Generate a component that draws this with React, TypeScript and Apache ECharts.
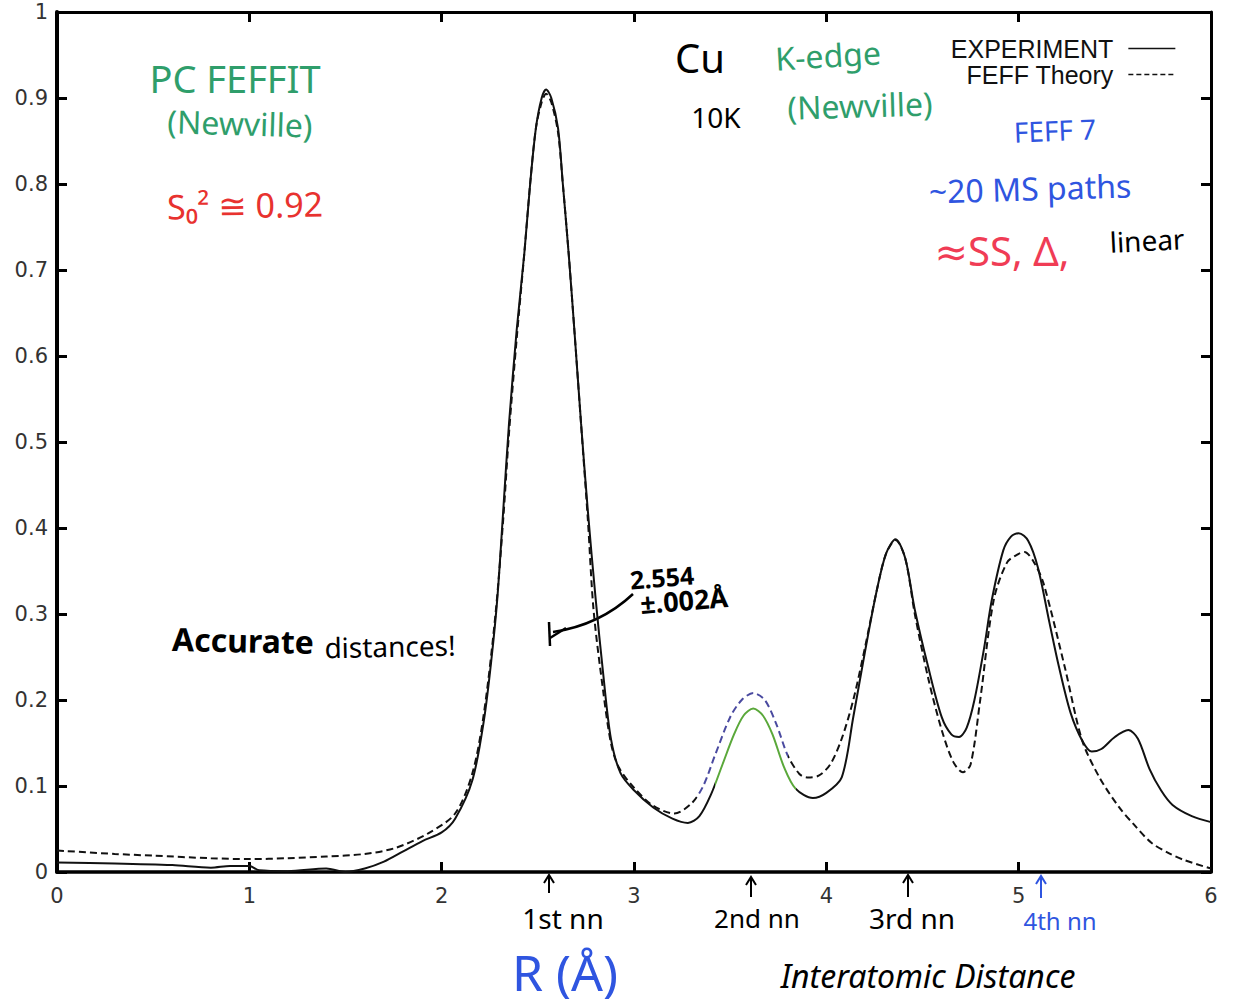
import React, { useEffect, useRef } from "react";
import * as echarts from "echarts";

// Experiment (solid): R (Å) and |chi(R)|
const rExp = [0, 0.3, 0.6, 0.8, 0.9, 1.0, 1.05, 1.2, 1.4, 1.5, 1.6, 1.7, 1.8, 1.9, 2.0, 2.07, 2.16, 2.22, 2.26, 2.29, 2.32, 2.35, 2.39, 2.43, 2.46, 2.49, 2.52, 2.543, 2.57, 2.605, 2.63, 2.66, 2.69, 2.725, 2.76, 2.8, 2.84, 2.88, 2.93, 3.0, 3.1, 3.2, 3.28, 3.34, 3.4, 3.46, 3.52, 3.57, 3.62, 3.67, 3.72, 3.78, 3.84, 3.93, 4.0, 4.08, 4.14, 4.2, 4.26, 4.31, 4.36, 4.41, 4.46, 4.53, 4.6, 4.65, 4.69, 4.73, 4.77, 4.82, 4.86, 4.92, 4.96, 5.0, 5.05, 5.1, 5.16, 5.21, 5.27, 5.33, 5.38, 5.43, 5.5, 5.57, 5.62, 5.68, 5.74, 5.8, 5.9, 6.0];
const vExp = [0.011, 0.01, 0.008, 0.005, 0.007, 0.007, 0.002, 0.001, 0.004, 0.0, 0.004, 0.012, 0.024, 0.036, 0.046, 0.062, 0.107, 0.177, 0.25, 0.32, 0.42, 0.521, 0.63, 0.72, 0.8, 0.865, 0.9, 0.91, 0.9, 0.865, 0.8, 0.72, 0.63, 0.521, 0.42, 0.319, 0.23, 0.155, 0.115, 0.095, 0.075, 0.062, 0.057, 0.065, 0.09, 0.125, 0.16, 0.182, 0.19, 0.182, 0.16, 0.122, 0.097, 0.086, 0.092, 0.11, 0.18, 0.255, 0.325, 0.37, 0.387, 0.365, 0.305, 0.238, 0.18, 0.16, 0.157, 0.168, 0.2, 0.26, 0.316, 0.374, 0.39, 0.394, 0.385, 0.354, 0.29, 0.238, 0.185, 0.153, 0.14, 0.143, 0.157, 0.165, 0.155, 0.12, 0.095, 0.078, 0.065, 0.058];

// FEFF theory (dashed)
const rTheory = [0, 0.3, 0.5, 0.8, 1.0, 1.2, 1.4, 1.6, 1.76, 1.93, 2.07, 2.16, 2.22, 2.28, 2.32, 2.35, 2.39, 2.43, 2.46, 2.49, 2.52, 2.543, 2.57, 2.605, 2.63, 2.66, 2.69, 2.725, 2.76, 2.79, 2.84, 2.88, 2.92, 3.0, 3.1, 3.21, 3.3, 3.36, 3.42, 3.5, 3.56, 3.62, 3.68, 3.74, 3.8, 3.86, 3.9, 3.96, 4.02, 4.08, 4.14, 4.2, 4.26, 4.31, 4.36, 4.41, 4.46, 4.53, 4.6, 4.66, 4.71, 4.75, 4.8, 4.87, 4.94, 5.0, 5.03, 5.08, 5.13, 5.24, 5.33, 5.42, 5.52, 5.6, 5.69, 5.78, 5.86, 6.0];
const vTheory = [0.025, 0.021, 0.019, 0.016, 0.015, 0.016, 0.018, 0.021, 0.028, 0.045, 0.068, 0.115, 0.185, 0.3, 0.41, 0.51, 0.62, 0.72, 0.8, 0.865, 0.895, 0.905, 0.895, 0.86, 0.8, 0.72, 0.63, 0.52, 0.41, 0.304, 0.21, 0.15, 0.122, 0.098, 0.077, 0.068, 0.08, 0.1, 0.135, 0.18, 0.2, 0.208, 0.2, 0.172, 0.135, 0.114, 0.11, 0.112, 0.125, 0.155, 0.2, 0.26, 0.325, 0.37, 0.386, 0.365, 0.3, 0.225, 0.165, 0.128, 0.116, 0.125, 0.2, 0.316, 0.36, 0.37, 0.372, 0.36, 0.335, 0.238, 0.153, 0.11, 0.076, 0.055, 0.034, 0.022, 0.014, 0.004];

const seriesNames = ["EXPERIMENT", "FEFF Theory"];

const HAND = "'Noto Sans', 'DejaVu Sans', sans-serif";
const SANS = "'Liberation Sans', Arial, Helvetica, sans-serif";
const TICKFONT = "'DejaVu Sans', 'Liberation Sans', sans-serif";

function txt(text: string, x: number, y: number, color: string, size: number, rot = 0, weight: any = "normal", style: any = "normal") {
  return {
    type: "text",
    x,
    y,
    rotation: rot,
    style: {
      text,
      fill: color,
      fontSize: size,
      fontFamily: HAND,
      fontWeight: weight,
      fontStyle: style,
      align: "center",
      verticalAlign: "middle",
    },
  };
}

function upArrow(x: number, y1: number, y2: number, color: string) {
  return [
    { type: "line", shape: { x1: x, y1, x2: x, y2 }, style: { stroke: color, lineWidth: 2 } },
    { type: "polyline", shape: { points: [[x - 5, y2 + 8], [x, y2], [x + 5, y2 + 8]] }, style: { stroke: color, lineWidth: 2, fill: null } },
  ];
}

export default function App() {
  const ref = useRef<HTMLDivElement>(null);
  useEffect(() => {
    if (!ref.current) return;
    const chart = echarts.init(ref.current, null, { renderer: "svg" });
    const expData = rExp.map((r, i) => [r, vExp[i]]);
    const thData = rTheory.map((r, i) => [r, vTheory[i]]);
    const axisFont = { fontSize: 21, color: "#333", fontFamily: TICKFONT };
    const green = "#2f9e6b";
    const red = "#e8322f";
    const blue = "#2f55e0";
    const legendBase = {
      right: 54, align: "right", orient: "vertical",
      itemWidth: 47, itemHeight: 14, selectedMode: false,
      itemStyle: { opacity: 0 },
      textStyle: { fontSize: 25, color: "#111", fontFamily: SANS, padding: [0, 10, 0, 0] },
    };
    const option: any = {
      animation: false,
      backgroundColor: "#fff",
      grid: { left: 57, right: 24, top: 12, bottom: 133, containLabel: false },
      xAxis: [
        {
          type: "value", min: 0, max: 6, interval: 1,
          axisLine: { lineStyle: { color: "#000", width: 3.5 } },
          axisTick: { inside: true, length: 10, lineStyle: { width: 3, color: "#000" } },
          axisLabel: { ...axisFont, margin: 13 },
          splitLine: { show: false },
        },
        {
          type: "value", min: 0, max: 6, interval: 1, position: "top",
          axisLine: { onZero: false, lineStyle: { color: "#000", width: 3 } },
          axisTick: { inside: true, length: 10, lineStyle: { width: 3, color: "#000" } },
          axisLabel: { show: false },
          splitLine: { show: false },
        },
      ],
      yAxis: [
        {
          type: "value", min: 0, max: 1, interval: 0.1,
          axisLine: { show: true, lineStyle: { color: "#000", width: 4 } },
          axisTick: { show: true, inside: true, length: 10, lineStyle: { width: 3, color: "#000" } },
          axisLabel: { ...axisFont, margin: 9 },
          splitLine: { show: false },
        },
        {
          type: "value", min: 0, max: 1, interval: 0.1, position: "right",
          axisLine: { show: true, onZero: false, lineStyle: { color: "#000", width: 3 } },
          axisTick: { show: true, inside: true, length: 10, lineStyle: { width: 3, color: "#000" } },
          axisLabel: { show: false },
          splitLine: { show: false },
        },
      ],
      legend: [
        { ...legendBase, data: [seriesNames[0]], top: 31, lineStyle: { color: "#111", width: 1.3, type: "solid" } },
        { ...legendBase, data: [seriesNames[1]], top: 57, lineStyle: { color: "#111", width: 1.3, type: [5, 3] } },
      ],
      visualMap: [
        {
          type: "piecewise", show: false, seriesIndex: 0, dimension: 0,
          pieces: [{ gt: 3.42, lte: 3.84, color: "#5aa83a" }],
          outOfRange: { color: "#111" },
        },
        {
          type: "piecewise", show: false, seriesIndex: 1, dimension: 0,
          pieces: [{ gt: 3.33, lte: 3.8, color: "#4a4aa0" }],
          outOfRange: { color: "#111" },
        },
      ],
      series: [
        {
          name: seriesNames[0], type: "line", data: expData, smooth: 0.3, symbol: "none",
          lineStyle: { width: 2 },
          z: 3,
        },
        {
          name: seriesNames[1], type: "line", data: thData, smooth: 0.3, symbol: "none",
          lineStyle: { width: 2, type: [7, 4] },
          z: 2,
        },
      ],
      graphic: [
        txt("PC FEFFIT", 235, 78, green, 38),
        txt("(Newville)", 240, 123, green, 32, -0.03),
        txt("S₀² ≅ 0.92", 245, 205, red, 34, 0.02),
        txt("Cu", 700, 57, "#000", 40),
        txt("K-edge", 828, 55, green, 32, 0.06),
        txt("10K", 716, 117, "#000", 28),
        txt("(Newville)", 860, 105, green, 32, 0.03),
        txt("FEFF 7", 1055, 130, blue, 28, 0.04),
        txt("~20 MS paths", 1030, 188, blue, 32, 0.03),
        txt("≈SS, Δ,", 1002, 250, "#f03c55", 40),
        txt("linear", 1147, 240, "#000", 28, 0.05),
        txt("Accurate", 243, 640, "#000", 32, -0.02, "bold"),
        txt("distances!", 390, 646, "#000", 28, 0.02),
        txt("2.554", 662, 577, "#000", 25, 0.08, "bold"),
        txt("±.002Å", 684, 600, "#000", 27, 0.08, "bold"),
        { type: "bezierCurve", shape: { x1: 633, y1: 594, cpx1: 600, cpy1: 625, x2: 553, y2: 632 }, style: { stroke: "#000", lineWidth: 2.5, fill: null } },
        { type: "polyline", shape: { points: [[549, 622], [550, 646]] }, style: { stroke: "#000", lineWidth: 2.5, fill: null } },
        { type: "polyline", shape: { points: [[550, 638], [566, 628]] }, style: { stroke: "#000", lineWidth: 2.5, fill: null } },
        ...upArrow(549, 893, 875, "#000"),
        ...upArrow(751, 897, 877, "#000"),
        ...upArrow(908, 897, 875, "#000"),
        ...upArrow(1041, 898, 876, "#2f55e0"),
        txt("1st nn", 563, 918, "#000", 28),
        txt("2nd nn", 757, 918, "#000", 26),
        txt("3rd nn", 912, 918, "#000", 28),
        txt("4th nn", 1060, 920, blue, 24),
        txt("R (Å)", 565, 972, blue, 50),
        txt("Interatomic Distance", 928, 975, "#000", 32, 0, "normal", "italic"),
      ],
    };
    chart.setOption(option);
    return () => chart.dispose();
  }, []);
  return <div ref={ref} style={{ position: "absolute", left: 0, top: 0, width: 1235, height: 1005 }} />;
}
